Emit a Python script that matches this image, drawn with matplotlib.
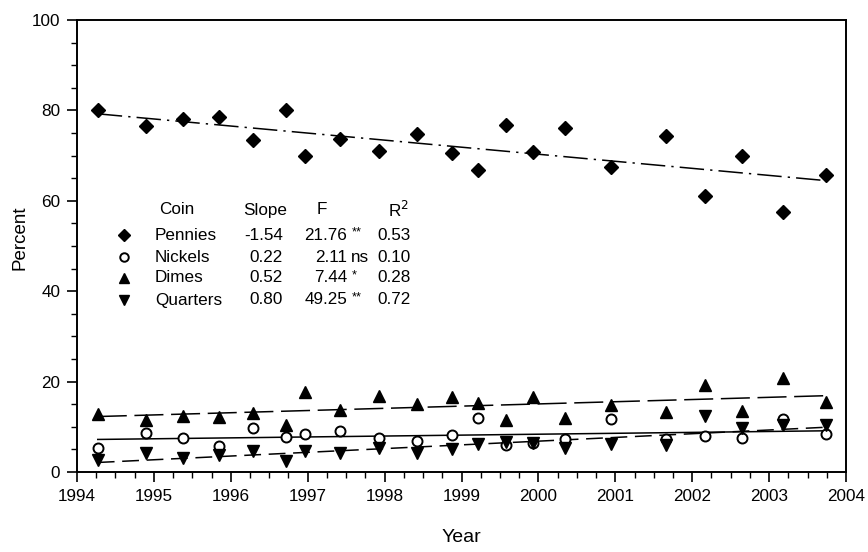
import numpy as np
import matplotlib
matplotlib.use("Agg")
import matplotlib.pyplot as plt
from matplotlib.lines import Line2D
from matplotlib.ticker import MultipleLocator

plt.rcParams['font.family'] = ['Liberation Sans', 'DejaVu Sans']

years = [1994.27, 1994.90, 1995.38, 1995.85, 1996.29, 1996.72, 1996.96, 1997.42,
         1997.93, 1998.42, 1998.87, 1999.22, 1999.58, 1999.93, 2000.34, 2000.95,
         2001.66, 2002.16, 2002.65, 2003.18, 2003.74]
pennies = [80.0, 76.6, 78.1, 78.6, 73.5, 80.0, 69.9, 73.6, 71.0, 74.7, 70.6,
           66.8, 76.8, 70.7, 76.2, 67.5, 74.3, 61.0, 69.9, 57.5, 65.8]
nickels = [5.2, 8.6, 7.5, 5.8, 9.7, 7.8, 8.4, 9.0, 7.5, 6.8, 8.2,
           12.0, 5.9, 6.5, 7.4, 11.8, 7.3, 7.9, 7.5, 11.7, 8.3]
dimes = [12.8, 11.4, 12.3, 12.2, 13.1, 10.4, 17.7, 13.8, 16.8, 15.0, 16.7,
         15.2, 11.5, 16.7, 12.0, 14.8, 13.3, 19.3, 13.4, 20.9, 15.5]
quarters = [2.7, 4.2, 3.2, 3.8, 4.6, 2.5, 4.7, 4.1, 5.2, 4.3, 5.1,
            6.2, 6.7, 6.5, 5.2, 6.3, 5.9, 12.3, 9.7, 10.4, 10.3]

coins = ["Pennies", "Nickels", "Dimes", "Quarters"]
slopes = ["-1.54", "0.22", "0.52", "0.80"]
f_vals = ["21.76", "2.11", "7.44", "49.25"]
f_sig = ["**", "ns", "*", "**"]
r2_vals = ["0.53", "0.10", "0.28", "0.72"]
x_ticks = list(range(1994, 2005))

W, H = 868, 552
fig = plt.figure(figsize=(W / 100, H / 100), dpi=100)
ax = fig.add_axes([77 / W, 1 - 472 / H, (846 - 77) / W, (472 - 20) / H])

series = [
    (pennies, dict(marker='D', ms=7.2, mfc='black', mec='black'), dict(dashes=(16, 4, 1.5, 4))),
    (nickels, dict(marker='o', ms=7.2, mfc='white', mec='black', mew=1.4), dict(linestyle='-')),
    (dimes, dict(marker='^', ms=8, mfc='black', mec='black'), dict(dashes=(19, 5))),
    (quarters, dict(marker='v', ms=8, mfc='black', mec='black'), dict(dashes=(11, 5))),
]

x = np.array(years)
for vals, mk, ls in series:
    y = np.array(vals)
    b1, b0 = np.polyfit(x, y, 1)
    xl = np.array([x.min(), x.max()])
    ax.plot(xl, b0 + b1 * xl, color='black', lw=1.1, **ls, zorder=2)
    ax.plot(x, y, linestyle='none', zorder=3, **mk)

ax.set_xlim(1994, 2004)
ax.set_ylim(0, 100)
ax.set_xticks(x_ticks)
ax.set_xticklabels([str(t) for t in x_ticks])
ax.xaxis.set_minor_locator(MultipleLocator(0.25))
ax.yaxis.set_major_locator(MultipleLocator(20))
ax.yaxis.set_minor_locator(MultipleLocator(5))
ax.tick_params(which='major', direction='out', length=7, width=1.2, labelsize=12.3, pad=5)
ax.tick_params(which='minor', direction='out', length=4, width=1.0)
for s in ax.spines.values():
    s.set_linewidth(1.4)

ax.set_xlabel("Year", fontsize=14)
ax.xaxis.set_label_coords(0.5, -(537 - 472) / (472 - 20), transform=ax.transAxes)
ax.xaxis.label.set_va('center')
ax.set_ylabel("Percent", fontsize=13.5)
ax.yaxis.set_label_coords(-(77 - 20) / (846 - 77), 0.5 + (246 - 238) / (472 - 20))
ax.yaxis.label.set_va('center')

# Statistics table (legend)
def fx(px):
    return px / W

def fy(py):
    return 1 - py / H

fs = 12.3
hy = 210
fig.text(fx(159), fy(hy), "Coin", fontsize=fs, va='center', ha='left')
fig.text(fx(265), fy(hy), "Slope", fontsize=fs, va='center', ha='center')
fig.text(fx(322), fy(hy), "F", fontsize=fs, va='center', ha='center')
fig.text(fx(398), fy(hy), "R$^2$", fontsize=fs, va='center', ha='center')

row_y = [235, 257, 278, 300]
for i, (vals, mk, ls) in enumerate(series):
    yy = row_y[i]
    fig.add_artist(Line2D([fx(124)], [fy(yy)], transform=fig.transFigure,
                          linestyle='none', **{**mk, 'ms': mk['ms'] * 0.85}))
    fig.text(fx(155), fy(yy), coins[i], fontsize=fs, va='center', ha='left')
    fig.text(fx(283), fy(yy), slopes[i], fontsize=fs, va='center', ha='right')
    fig.text(fx(347), fy(yy), f_vals[i], fontsize=fs, va='center', ha='right')
    if f_sig[i] == 'ns':
        fig.text(fx(351), fy(yy), f_sig[i], fontsize=fs, va='center', ha='left')
    else:
        fig.text(fx(352), fy(yy - 3), f_sig[i], fontsize=fs * 0.75, va='center', ha='left')
    fig.text(fx(377), fy(yy), r2_vals[i], fontsize=fs, va='center', ha='left')

fig.savefig("out.png", dpi=100)
